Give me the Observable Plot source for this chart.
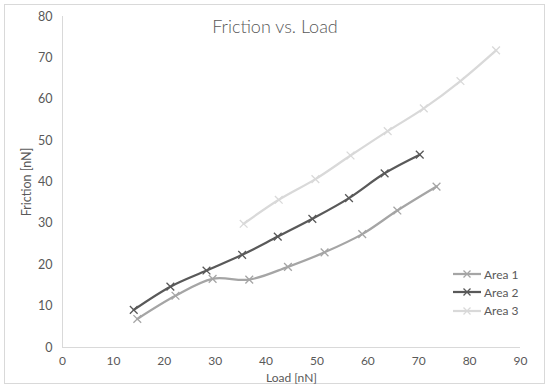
<!DOCTYPE html>
<html>
<head>
<meta charset="utf-8">
<script src="https://cdn.jsdelivr.net/npm/d3@7"></script>
<script src="https://cdn.jsdelivr.net/npm/@observablehq/plot@0.6"></script>
<style>
  body { margin: 0; background: #fff; font-family: Lato, "Open Sans", sans-serif; }
  #wrap { position: relative; width: 550px; height: 388px; overflow: hidden; }
  #frame { position: absolute; left: 4px; top: 4px; width: 541px; height: 380px; box-sizing: border-box; border: 1px solid #d9d9d9; }
  #title { position: absolute; left: 0; width: 550px; top: 15px; text-align: center; font-size: 18px; color: #595959; font-weight: 300; }
  #legend { position: absolute; left: 452px; top: 265px; font-size: 12px; color: #595959; }
  #legend .row { display: flex; align-items: center; height: 18.3px; }
  #legend svg { margin-right: 2px; }
  #chart { position: absolute; left: 0; top: 0; }
</style>
</head>
<body>
<div id="wrap">
  <div id="frame"></div>
  <div id="chart"></div>
  <div id="title"></div>
  <div id="legend"></div>
</div>
<script>
const titleText = "Friction vs. Load";
const xLabel = "Load [nN]";
const yLabel = "Friction [nN]";
const seriesNames = ["Area 1", "Area 2", "Area 3"];
const seriesColors = ["#a5a5a5", "#595959", "#d9d9d9"];
const xTicks = [0, 10, 20, 30, 40, 50, 60, 70, 80, 90];
const yTicks = [0, 10, 20, 30, 40, 50, 60, 70, 80];

const area1Load = [14.7, 22.2, 29.5, 36.7, 44.3, 51.5, 58.9, 65.8, 73.5];
const area1Friction = [6.9, 12.5, 16.6, 16.4, 19.5, 23.0, 27.4, 33.1, 38.9];
const area2Load = [14.0, 21.2, 28.3, 35.3, 42.3, 49.1, 56.3, 63.3, 70.2];
const area2Friction = [9.1, 14.7, 18.6, 22.4, 26.8, 31.1, 36.1, 42.1, 46.6];
const area3Load = [35.6, 42.5, 49.7, 56.6, 63.9, 71.0, 78.2, 85.2];
const area3Friction = [29.9, 35.7, 40.7, 46.4, 52.3, 57.8, 64.4, 71.8];

const loads = [area1Load, area2Load, area3Load];
const frictions = [area1Friction, area2Friction, area3Friction];
const data = seriesNames.flatMap((s, i) =>
  loads[i].map((l, j) => ({series: s, load: l, friction: frictions[i][j]})));

document.getElementById("title").textContent = titleText;

const chart = Plot.plot({
  width: 550,
  height: 388,
  marginLeft: 62,
  marginRight: 30,
  marginTop: 16,
  marginBottom: 41,
  style: {fontFamily: "Lato, 'Open Sans', sans-serif", fontSize: "12px", color: "#595959", background: "transparent"},
  x: {domain: [0, 90]},
  y: {domain: [0, 80]},
  color: {domain: seriesNames, range: seriesColors},
  marks: [
    Plot.axisX({ticks: xTicks, tickSize: 0, tickPadding: 9, label: xLabel, labelAnchor: "center", labelArrow: "none", labelOffset: 34, fontSize: 12}),
    Plot.axisY({ticks: yTicks, tickSize: 0, tickPadding: 10, label: yLabel, labelAnchor: "center", labelArrow: "none", labelOffset: 40, fontSize: 12.5}),
    Plot.ruleY([0], {stroke: "#d9d9d9"}),
    Plot.ruleX([0], {stroke: "#d9d9d9"}),
    Plot.line(data, {x: "load", y: "friction", z: "series", stroke: "series", curve: "catmull-rom", strokeWidth: 2.25}),
    Plot.dot(data, {x: "load", y: "friction", stroke: "series", symbol: "times", r: 3.6, strokeWidth: 1.3})
  ]
});
document.getElementById("chart").appendChild(chart);

const legend = d3.select("#legend");
seriesNames.forEach((s, i) => {
  const row = legend.append("div").attr("class", "row");
  const svg = row.append("svg").attr("width", 30).attr("height", 10);
  svg.append("line").attr("x1", 1).attr("x2", 29).attr("y1", 5).attr("y2", 5)
    .attr("stroke", seriesColors[i]).attr("stroke-width", 2.25);
  svg.append("path").attr("d", "M11.5,1.5L18.5,8.5M18.5,1.5L11.5,8.5")
    .attr("stroke", seriesColors[i]).attr("stroke-width", 1.3).attr("fill", "none");
  row.append("span").text(s);
});
</script>
</body>
</html>
